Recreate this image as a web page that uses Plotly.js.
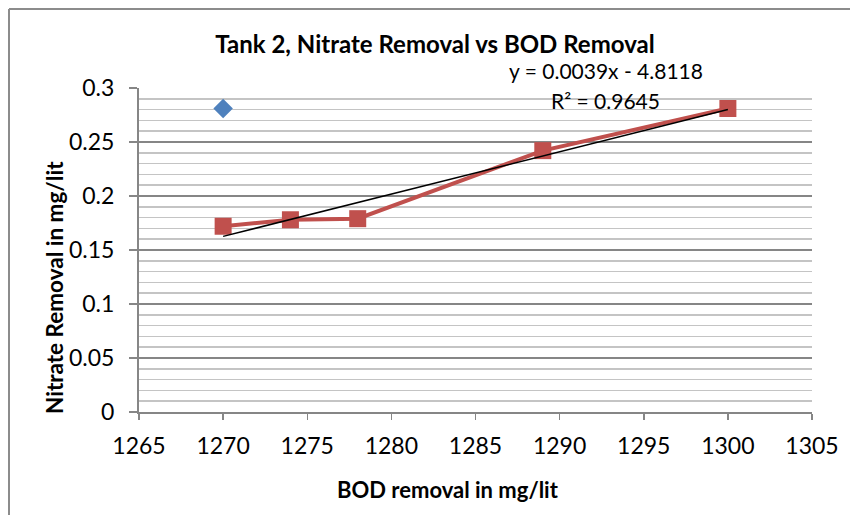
<!DOCTYPE html>
<html>
<head>
<meta charset="utf-8">
<script src="https://cdn.plot.ly/plotly-3.0.1.min.js"></script>
<style>
html,body{margin:0;padding:0;background:#fff;}
#chart{width:850px;height:515px;}
</style>
</head>
<body>
<div id="chart"></div>
<script>
// Data
const bodOutlier = [1270];
const nitrateOutlier = [0.281];
const bodRemoval = [1270, 1274, 1278, 1289, 1300];
const nitrateRemoval = [0.172, 0.178, 0.179, 0.242, 0.281];
const xTicks = [1265, 1270, 1275, 1280, 1285, 1290, 1295, 1300, 1305];
const yTicks = [0, 0.05, 0.1, 0.15, 0.2, 0.25, 0.3];
const chartTitle = "Tank 2, Nitrate Removal vs BOD Removal";
const xTitle = "BOD removal in mg/lit";
const yTitle = "Nitrate Removal in mg/lit";
const equationText = "y = 0.0039x - 4.8118";
const r2Text = "R² = 0.9645";

// Linear least-squares trendline through the red series
const n = bodRemoval.length;
const mx = bodRemoval.reduce((a,b)=>a+b,0)/n;
const my = nitrateRemoval.reduce((a,b)=>a+b,0)/n;
let sxy=0, sxx=0;
for (let i=0;i<n;i++){ sxy+=(bodRemoval[i]-mx)*(nitrateRemoval[i]-my); sxx+=(bodRemoval[i]-mx)**2; }
const slope = sxy/sxx, intercept = my - slope*mx;
const trendX = [Math.min(...bodRemoval), Math.max(...bodRemoval)];
const trendY = trendX.map(x => slope*x + intercept);

// minor gridlines every 0.01, skipping the major ones
const minorVals = [];
for (let k=1;k<30;k++){ if (k%5!==0) minorVals.push(+(k*0.01).toFixed(2)); }

const FONT = "Lato, 'Open Sans', sans-serif";

const traces = [
  {x: bodOutlier, y: nitrateOutlier, type:'scatter', mode:'markers',
   marker:{symbol:'diamond', size:15, color:'#4F81BD', line:{width:0}}, showlegend:false, hoverinfo:'skip'},
  {x: bodRemoval, y: nitrateRemoval, type:'scatter', mode:'lines+markers',
   line:{color:'#C0504D', width:4}, marker:{symbol:'square', size:17, color:'#C0504D'}, showlegend:false, hoverinfo:'skip'},
  {x: trendX, y: trendY, type:'scatter', mode:'lines',
   line:{color:'#000000', width:1.5}, showlegend:false, hoverinfo:'skip'}
];

const L=139, R=38, T=88, B=103, W=850-L-R, H=515-T-B;
const px = p => (p-L)/W;          // pixel x -> paper x
const py = p => (515-B-p)/H;      // pixel y -> paper y

const layout = {
  width:850, height:515,
  margin:{l:L, r:R, t:T, b:B, pad:0},
  paper_bgcolor:'#fff', plot_bgcolor:'#fff',
  font:{family:FONT, size:23, color:'#000'},
  title:{text:'<b>'+chartTitle+'</b>', font:{family:FONT, size:24, color:'#000'},
         x:435/850, xref:'container', xanchor:'center', y:1-45/515, yref:'container', yanchor:'middle'},
  xaxis:{range:[1265,1305], tickvals:xTicks, ticktext:xTicks.map(String), showgrid:false, zeroline:false,
         showline:true, linecolor:'#868686', linewidth:2, ticks:'outside', ticklen:6, tickcolor:'#868686', tickwidth:1.5,
         ticklabelstandoff:6,
         tickfont:{family:FONT, size:23, color:'#000'},
         title:{text:''}},
  yaxis:{range:[0,0.3], tickvals:yTicks, ticktext:yTicks.map(v=>String(v)), zeroline:false,
         showline:true, linecolor:'#868686', linewidth:2, ticks:'outside', ticklen:8, tickcolor:'#868686', tickwidth:1.5,
         ticklabelstandoff:10,
         showgrid:true, gridcolor:'#868686', gridwidth:2,
         minor:{tickvals:minorVals, showgrid:true, gridcolor:'#c4c4c4', gridwidth:1.5, ticks:''},
         tickfont:{family:FONT, size:23, color:'#000'},
         title:{text:''}},
  annotations:[
    {text:'<b>'+xTitle+'</b>', xref:'paper', yref:'paper', x:px(448), y:py(489), xanchor:'center', yanchor:'middle',
     showarrow:false, font:{family:FONT, size:22, color:'#000'}},
    {text:'<b>'+yTitle+'</b>', xref:'paper', yref:'paper', x:px(54), y:py(288), xanchor:'center', yanchor:'middle',
     textangle:-90, showarrow:false, font:{family:FONT, size:22.5, color:'#000'}},
    {text:equationText, xref:'paper', yref:'paper', x:px(606), y:py(70), xanchor:'center', yanchor:'middle',
     showarrow:false, font:{family:FONT, size:21, color:'#000'}},
    {text:r2Text, xref:'paper', yref:'paper', x:px(605), y:py(100), xanchor:'center', yanchor:'middle',
     showarrow:false, font:{family:FONT, size:21, color:'#000'}}
  ],
  shapes:[
    {type:'line', xref:'paper', yref:'paper', x0:px(9), x1:px(9), y0:py(9), y1:-1, line:{color:'#8c8c8c', width:2}},
    {type:'line', xref:'paper', yref:'paper', x0:px(9), x1:2, y0:py(9), y1:py(9), line:{color:'#8c8c8c', width:2}}
  ]
};

Plotly.newPlot('chart', traces, layout, {displayModeBar:false, staticPlot:true});
</script>
</body>
</html>
